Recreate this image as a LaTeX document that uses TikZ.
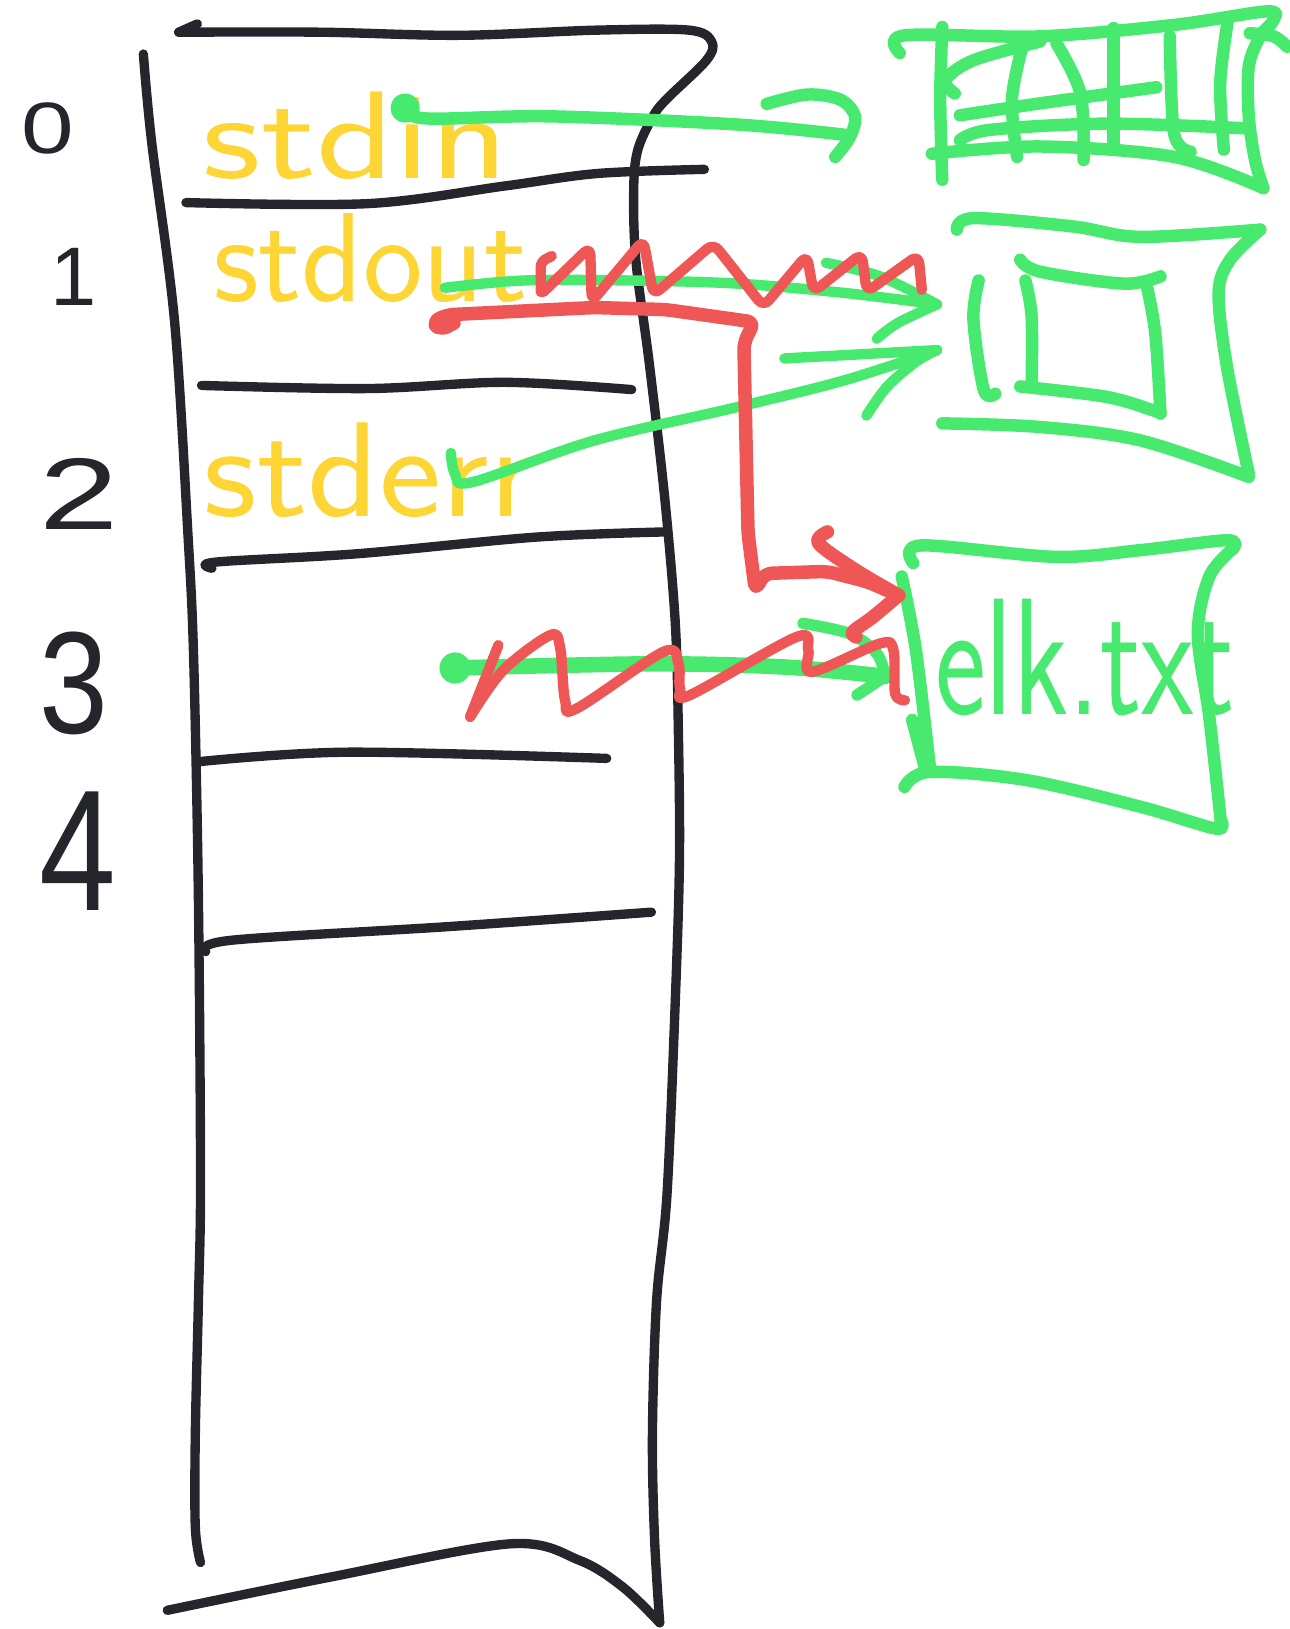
\documentclass[tikz,border=0pt]{standalone}
\usepackage{fontspec}
\usepackage{graphicx}
\newfontfamily\digitfont{Liberation Sans}
\definecolor{ink}{HTML}{25262B}
\definecolor{gr}{HTML}{47EA6F}
\definecolor{yel}{HTML}{FDD535}
\definecolor{rd}{HTML}{EF5656}
\tikzset{
  pen/.style={line cap=round, line join=round},
  blackpen/.style={pen, draw=ink, line width=9pt},
  greenpen/.style={pen, draw=gr, line width=12pt},
  redpen/.style={pen, draw=rd, line width=10pt},
  lab/.style={text=yel, inner sep=0pt, anchor=base west},
  digit/.style={text=ink, inner sep=0pt, anchor=base},
  sm/.style={smooth, tension=0.55}
}
\newcommand{\fsz}[1]{\sffamily\fontsize{#1}{#1}\selectfont}
\newcommand{\dsz}[1]{\digitfont\fontsize{#1}{#1}\selectfont}
\begin{document}
\begin{tikzpicture}[x=1pt,y=-1pt]
\useasboundingbox (0,0) rectangle (1241,1568);

% ---------- the fd table (paper) ----------
\draw[blackpen] (190,23) -- (172,31);
\draw[blackpen] plot[sm] coordinates {(172,31) (309,31) (442,34) (575,29) (663,29) (685,40) (680,58) (641,96) (628,113) (614,144) (610,180) (612,250) (625,350) (640,481) (650,600) (653,706) (654,828) (650,963) (642,1150) (632,1252) (628,1380) (630,1480) (635,1562)};
\draw[blackpen] plot[sm] coordinates {(161,1550) (318,1518) (491,1486) (558,1502) (600,1528) (635,1562)};
\draw[blackpen] plot[sm] coordinates {(138,52) (146,137) (168,309) (181,516) (186,620) (190,800) (192,963) (193,1150) (191,1252) (188,1380) (188,1470) (193,1504)};
% dividers
\draw[blackpen] plot[sm] coordinates {(179,195) (354,196) (486,179) (575,167) (678,163)};
\draw[blackpen] plot[sm] coordinates {(194,371) (354,374) (486,368) (608,375)};
\draw[blackpen] plot[sm] coordinates {(204,547) (208,541) (344,533) (516,517) (640,512)};
\draw[blackpen] plot[sm] coordinates {(193,733) (335,724) (584,730)};
\draw[blackpen] plot[sm] coordinates {(198,916) (223,905) (430,892) (627,878)};

% ---------- fd numbers ----------
\node[digit] (n0) at (46,148) {\dsz{70}\scalebox{1.3}[1]{0}};
\node[digit] (n1) at (71,294) {\dsz{80}1};
\node[digit] (n2) at (76,510) {\dsz{98}\scalebox{1.4}[1]{2}};
\node[digit] (n3) at (71,706) {\dsz{140}\scalebox{0.85}[1]{3}};
\node[digit] (n4) at (75,876) {\dsz{166}\scalebox{0.8}[1]{4}};

% ---------- labels ----------
\node[lab] (lin) at (195,172) {\fsz{120}\scalebox{1.3}[1]{stdin}};
\node[lab] (lout) at (205,290) {\fsz{122}\scalebox{1.0}[1]{stdout}};
\node[lab] (lerr) at (196,497) {\fsz{130}\scalebox{1.1}[1]{stderr}};

% ---------- keyboard ----------
\draw[greenpen] plot[sm] coordinates {(866,51) (871,34) (1001,35) (1130,24) (1219,11) (1226,19) (1213,35) (1202,64) (1202,112) (1208,154) (1216,181)};
\draw[greenpen] plot[sm] coordinates {(897,148) (1001,141) (1130,151) (1216,181)};
\draw[greenpen] plot[sm] coordinates {(1203,32) (1226,35) (1239,45)};
\draw[greenpen] plot[sm] coordinates {(907,26) (905,96) (907,173)};
\draw[greenpen] plot[sm] coordinates {(919,90) (910,77) (937,58) (1001,40)};
\draw[greenpen] plot[sm] coordinates {(924,111) (1001,99.5) (1113,84)};
\draw[greenpen] plot[sm] coordinates {(924,135) (953,125) (1065,119) (1199,123.5)};
\draw[greenpen] plot[sm] coordinates {(984,45) (974,96) (979,151)};
\draw[greenpen] plot[sm] coordinates {(1017,42) (1040,90) (1043,154)};
\draw[greenpen] plot[sm] coordinates {(1072,27) (1072,141)};
\draw[greenpen] plot[sm] coordinates {(1126,35) (1130,128) (1146,146)};
\draw[greenpen] plot[sm] coordinates {(1182,19) (1174.5,80) (1178,144)};

% ---------- screen ----------
\draw[greenpen] plot[sm] coordinates {(921,221) (937,210) (1033,218) (1098,228) (1213,221)};
\draw[greenpen] plot[sm] coordinates {(1213,221) (1184,250) (1173,282) (1181,353) (1202,456)};
\draw[greenpen] plot[sm] coordinates {(907,407.5) (1001,411) (1098,424) (1202,459)};
\draw[greenpen] plot[sm] coordinates {(942,270) (937,308) (947,375.5) (958,379)};
\draw[greenpen] plot[sm] coordinates {(982,250) (1001,261.5) (1081.5,273) (1117,266)};
\draw[greenpen] plot[sm] coordinates {(987,270) (993,305) (993,371)};
\draw[greenpen] plot[sm] coordinates {(982,372) (1065,382) (1110,395) (1117,398)};
\draw[greenpen] plot[sm] coordinates {(1104,276) (1112,321) (1117,398)};

% ---------- elk.txt file ----------
\draw[greenpen] plot[sm] coordinates {(879,542) (887,525) (1016,536) (1098,529.5) (1181,520) (1187,528)};
\draw[greenpen] plot[sm] coordinates {(1187,528) (1164,555) (1153,610) (1164,690) (1175,789.5)};
\draw[greenpen] plot[sm] coordinates {(870.6,757.4) (895,743) (988.6,751) (1098,776.6) (1170,797.5) (1175,789.5)};
\draw[greenpen] plot[sm] coordinates {(868,555) (881.6,626) (895,738)};
\draw[greenpen] plot[sm] coordinates {(878,693) (890,738)};
\node[lab, text=gr] (elk) at (900,688) {\fsz{160}\scalebox{0.73}[1]{elk.txt}};

% ---------- stdin arrow ----------
\coordinate (inSrc) at (390,104);
\coordinate (inTip) at (815,130);
\fill[gr] (inSrc) circle (14pt);
\draw[greenpen] plot[sm] coordinates {(inSrc) (410,114) (530,112) (712,120) (inTip)};
\draw[greenpen] plot[sm] coordinates {(738,100) (777,91) (809,96) (823,112) (818,132) (804,151)};

% ---------- stdout arrow ----------
\coordinate (outSrc) at (428,277);
\coordinate (outTip) at (902,293);
\draw[greenpen, line width=10pt] plot[sm] coordinates {(outSrc) (504,270) (607,270) (710,273) (813,282) (outTip)};
\draw[greenpen, line width=10pt] plot[sm] coordinates {(795,253) (847,266) (outTip)};
\draw[greenpen, line width=10pt] plot[sm] coordinates {(844,326) (864,311) (outTip)};

% ---------- stderr arrow ----------
\coordinate (errSrc) at (434,436);
\coordinate (errTip) at (902,337);
\draw[greenpen, line width=10pt] plot[sm] coordinates {(errSrc) (438,456) (455,464) (572,424) (709,392) (813,366) (errTip)};
\draw[greenpen, line width=10pt] (755,345) -- (errTip);
\draw[greenpen, line width=10pt] plot[sm] coordinates {(834,400) (854,372) (882,348) (errTip)};

% ---------- fd 3 arrow ----------
\coordinate (f3Src) at (438,643);
\coordinate (f3Tip) at (852,651);
\fill[gr] (f3Src) circle (15pt);
\draw[greenpen, line width=15pt] plot[sm] coordinates {(f3Src) (626,639) (754,642) (f3Tip)};
\draw[greenpen, line width=11pt] plot[sm] coordinates {(773,600) (818,610) (844,629) (f3Tip)};
\draw[greenpen, line width=11pt] (825,669) -- (f3Tip);

% ---------- red redirect ----------
\coordinate (rStart) at (437,311);
\coordinate (rTip) at (865,573);
\draw[redpen, line width=13pt, rounded corners=7pt] (rStart) -- (424,318) -- (416,310) -- (430,303) -- (572,296) -- (641,298) -- (726,310) -- (716,330) -- (720,513) -- (727,568) -- (736,552) -- (796,550) -- (835,560) -- (rTip);
\draw[redpen, line width=13pt] plot[sm] coordinates {(796.5,512) (788,523) (824,549) (rTip)};
\draw[redpen, line width=13pt] plot[sm] coordinates {(rTip) (840,594) (821,608) (824,613)};

% red squiggle (top)
\draw[redpen, rounded corners=5pt] (520.5,281) -- (520.5,252) -- (531,246.5);
\draw[redpen, rounded corners=8pt] (523,281) -- (568,237.5) -- (569.6,290.4) -- (619.3,231) -- (629,284) -- (686.7,234.3) -- (734.9,295.2) -- (776.6,245.5) -- (783,281) -- (829.5,244) -- (834.3,281) -- (884,245.5) -- (887.3,279);

% red squiggle (bottom)
\draw[redpen] (479.7,621) -- (452.5,690);
\draw[redpen] plot[sm] coordinates {(452.5,690) (484.5,645) (529.5,611.4) (539,622.6) (543.9,674) (555,682) (638.6,627.4) (653,638.6) (654.6,662.7) (664.3,669) (766.9,613) (778,625.8) (781.4,646.7) (847,619.4) (860,625.8) (861.6,667.5) (871,674)};
\end{tikzpicture}
\end{document}
